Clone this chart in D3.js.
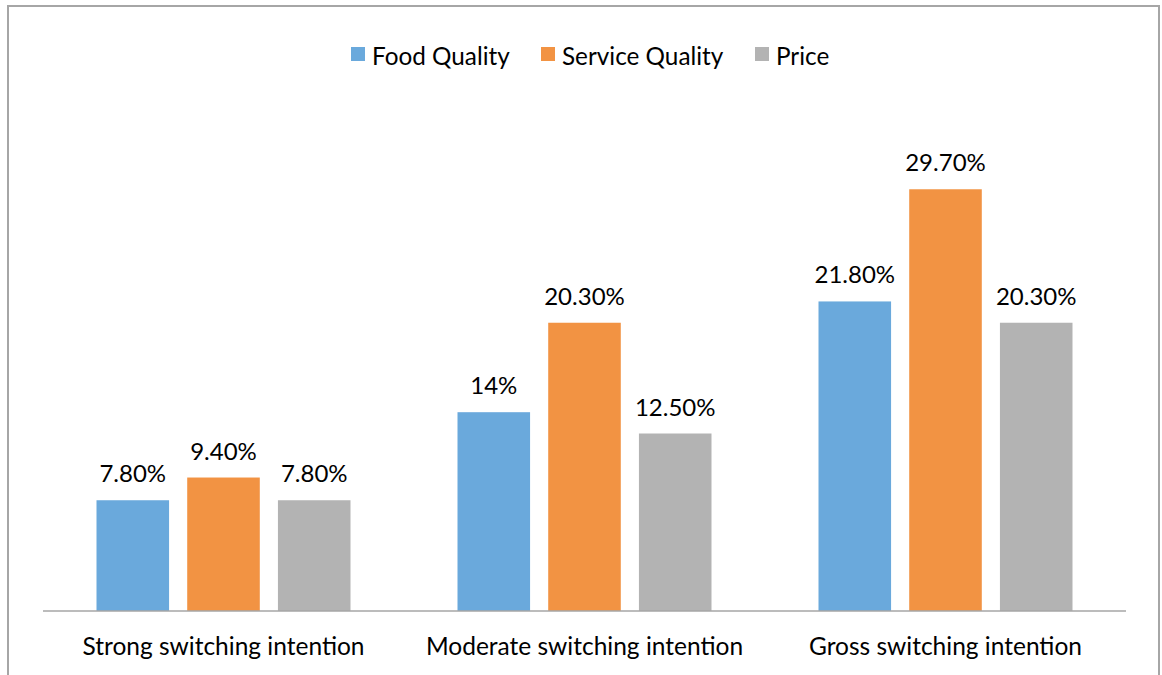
<!DOCTYPE html>
<html>
<head>
<meta charset="utf-8">
<script src="https://cdn.jsdelivr.net/npm/d3@7"></script>
<style>
  body { margin: 0; background: #fff; }
  text { font-family: Lato, "Open Sans", sans-serif; fill: #000; }
</style>
</head>
<body>
<svg id="chart" width="1162" height="675"></svg>
<script>
const categories = ['Strong switching intention', 'Moderate switching intention', 'Gross switching intention'];
const seriesNames = ['Food Quality', 'Service Quality', 'Price'];
const foodQuality = [7.8, 14, 21.8];
const serviceQuality = [9.4, 20.3, 29.7];
const price = [7.8, 12.5, 20.3];
const valueLabels = [
  ['7.80%', '14%', '21.80%'],
  ['9.40%', '20.30%', '29.70%'],
  ['7.80%', '12.50%', '20.30%']
];
const colors = ['#6aa9dc', '#f29343', '#b3b3b3'];

const svg = d3.select('#chart');
const series = [foodQuality, serviceQuality, price];

// frame
svg.append('rect')
  .attr('x', 8).attr('y', 6)
  .attr('width', 1151).attr('height', 680)
  .attr('fill', 'none')
  .attr('stroke', '#a6a6a6')
  .attr('stroke-width', 2);

const x0 = d3.scaleBand()
  .domain(categories)
  .range([43, 1126]);

const x1 = d3.scaleBand()
  .domain(seriesNames)
  .range([0, 254])
  .paddingInner(0.2);

const y = d3.scaleLinear()
  .domain([0, 30])
  .range([611, 185]);

const groups = svg.selectAll('g.cat')
  .data(categories)
  .enter().append('g')
  .attr('class', 'cat')
  .attr('transform', d => 'translate(' + (x0(d) + x0.bandwidth() / 2 - 127) + ',0)');

groups.each(function(cat, ci) {
  const g = d3.select(this);
  seriesNames.forEach((s, si) => {
    const v = series[si][ci];
    g.append('rect')
      .attr('x', x1(s))
      .attr('y', y(v))
      .attr('width', x1.bandwidth())
      .attr('height', y(0) - y(v))
      .attr('fill', colors[si]);
    g.append('text')
      .attr('x', x1(s) + x1.bandwidth() / 2)
      .attr('y', y(v) - 18)
      .attr('text-anchor', 'middle')
      .style('font-size', '24px')
      .text(valueLabels[si][ci]);
  });
});

// baseline
svg.append('line')
  .attr('x1', 43).attr('x2', 1126)
  .attr('y1', y(0)).attr('y2', y(0))
  .attr('stroke', '#a6a6a6')
  .attr('stroke-width', 1.5);

// category labels
svg.selectAll('text.catlabel')
  .data(categories)
  .enter().append('text')
  .attr('class', 'catlabel')
  .attr('x', d => x0(d) + x0.bandwidth() / 2)
  .attr('y', 655)
  .attr('text-anchor', 'middle')
  .style('font-size', '24.5px')
  .text(d => d);

// legend
const legendX = [351, 541, 755];
seriesNames.forEach((s, i) => {
  svg.append('rect')
    .attr('x', legendX[i]).attr('y', 47)
    .attr('width', 14).attr('height', 14)
    .attr('fill', colors[i]);
  svg.append('text')
    .attr('x', legendX[i] + 21)
    .attr('y', 65)
    .style('font-size', '24.3px')
    .text(s);
});
</script>
</body>
</html>
